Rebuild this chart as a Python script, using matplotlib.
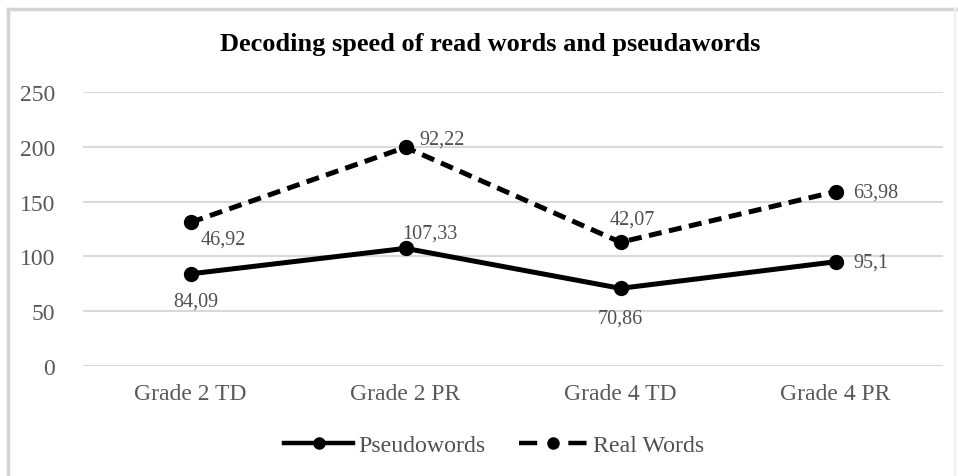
import matplotlib
matplotlib.use("Agg")
import matplotlib.pyplot as plt
from matplotlib.lines import Line2D

categories = ["Grade 2 TD", "Grade 2 PR", "Grade 4 TD", "Grade 4 PR"]
pseudowords = [84.09, 107.33, 70.86, 95.1]
real_words = [46.92, 92.22, 42.07, 63.98]
y_ticks = [0, 50, 100, 150, 200, 250]

plt.rcParams["font.family"] = ["Liberation Serif", "DejaVu Serif"]

fig = plt.figure(figsize=(9.58, 4.77), dpi=100)
fig.patch.set_facecolor("white")

# chart frame: visible top and left edges, faint right edge
W, H = 958, 477
fig.add_artist(Line2D([8 / W, 1], [1 - 10 / H] * 2, color="#d4d4d4", lw=2.5,
                      transform=fig.transFigure))
fig.add_artist(Line2D([8 / W] * 2, [0, 1 - 10 / H], color="#d4d4d4", lw=2.5,
                      transform=fig.transFigure))
fig.add_artist(Line2D([955 / W] * 2, [0, 1 - 10 / H], color="#f0f0f0", lw=1.5,
                      transform=fig.transFigure))

ax = fig.add_axes([83 / W, 1 - 367 / H, 860 / W, 274 / H])
x = list(range(len(categories)))
# stacked line: real words sit on top of pseudowords
stacked = [p + r for p, r in zip(pseudowords, real_words)]

ax.plot(x, pseudowords, color="black", lw=3.6, marker="o", ms=10,
        solid_capstyle="butt")
ax.plot(x, stacked, color="black", lw=3.6, marker="o", ms=10,
        linestyle=(0, (2.6, 1.5)), dash_capstyle="butt")

ax.set_xlim(-0.5, len(categories) - 0.5)
ax.set_ylim(0, 250)
ax.set_yticks(y_ticks)
ax.set_xticks(x)
ax.set_xticklabels(categories)
ax.grid(axis="y", color="#d9d9d9", lw=1.5)
ax.set_axisbelow(True)
for s in ax.spines.values():
    s.set_visible(False)
ax.tick_params(length=0, labelsize=17, colors="#595959", pad=12)
ax.tick_params(axis="y", pad=20)

lab = dict(fontsize=14.5, color="#505050")
# pseudowords labels
p_off = [(5, -18, "center", "top"), (-3, 15, "left", "center"),
         (0, -20, "center", "top"), (18, 0, "left", "center")]
for xi, v, (dx, dy, ha, va) in zip(x, pseudowords, p_off):
    ax.annotate(f"{v:g}".replace(".", ","), (xi, v), xytext=(dx, dy),
                textcoords="offset pixels", ha=ha, va=va, **lab)
# real words labels, placed at the stacked points
r_off = [(10, -7, "left", "top"), (14, 8, "left", "center"),
         (12, 14, "center", "bottom"), (18, 0, "left", "center")]
for xi, v, s, (dx, dy, ha, va) in zip(x, real_words, stacked, r_off):
    ax.annotate(f"{v:g}".replace(".", ","), (xi, s), xytext=(dx, dy),
                textcoords="offset pixels", ha=ha, va=va, **lab)

fig.text(490 / W, 1 - 45 / H, "Decoding speed of read words and pseudawords",
         ha="center", va="center", fontsize=19, fontweight="bold", color="black")

handles = [Line2D([], [], color="black", lw=3.2, marker="o", ms=8),
           Line2D([], [], color="black", lw=3.2, marker="o", ms=8,
                  linestyle=(0, (4.1, 7.0)))]
fig.legend(handles, ["Pseudowords", "Real Words"], loc="center",
           bbox_to_anchor=(494 / W, 1 - 446 / H), ncol=2, frameon=False,
           fontsize=17.2, handlelength=2.9, handletextpad=0.2,
           columnspacing=1.4, labelcolor="#505050")

fig.savefig("out.png", dpi=100, facecolor="white")
